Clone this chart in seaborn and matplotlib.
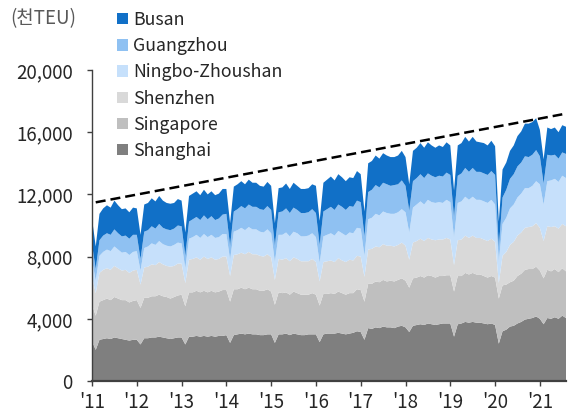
import numpy as np
import pandas as pd
import matplotlib
matplotlib.use("Agg")
import matplotlib.pyplot as plt
import seaborn as sns
from matplotlib.patches import Patch

# Monthly container throughput, thousand TEU, Jan 2011 - Aug 2021
shanghai = [
    2550, 2000, 2650, 2700, 2750, 2700, 2800, 2750, 2700, 2650, 2600, 2650,
    2650, 2350, 2750, 2750, 2800, 2800, 2850, 2800, 2750, 2700, 2750, 2800,
    2800, 2350, 2850, 2850, 2900, 2850, 2900, 2850, 2900, 2850, 2900, 2900,
    2950, 2450, 2950, 3000, 3050, 3000, 3050, 3000, 3000, 2950, 2950, 3000,
    3000, 2450, 3000, 3000, 3050, 2950, 3050, 3000, 2950, 2950, 3000, 3000,
    3000, 2500, 3000, 3050, 3050, 3050, 3100, 3050, 3000, 3050, 3100, 3200,
    3150, 2650, 3400, 3350, 3450, 3400, 3500, 3450, 3450, 3400, 3500, 3550,
    3450, 3150, 3550, 3600, 3650, 3600, 3700, 3650, 3600, 3650, 3700, 3700,
    3700, 2850, 3650, 3700, 3800, 3750, 3800, 3750, 3750, 3700, 3650, 3700,
    3600, 2400, 3200, 3300, 3500, 3550, 3700, 3800, 3950, 4000, 4050, 4150,
    4000, 3650, 4050, 4000, 4100, 4000, 4200, 4050,
]
singapore = [
    2350, 2200, 2450, 2500, 2550, 2500, 2600, 2550, 2500, 2550, 2450, 2500,
    2550, 2350, 2600, 2600, 2650, 2650, 2700, 2650, 2650, 2600, 2650, 2700,
    2750, 2450, 2850, 2850, 2900, 2850, 2900, 2850, 2900, 2850, 2850, 2950,
    2900, 2650, 2950, 2900, 2950, 2900, 2950, 2900, 2900, 2850, 2850, 2900,
    2750, 2450, 2700, 2650, 2650, 2600, 2700, 2650, 2600, 2600, 2550, 2650,
    2550, 2350, 2600, 2550, 2600, 2550, 2650, 2600, 2550, 2600, 2550, 2700,
    2700, 2450, 2850, 2900, 2950, 2950, 3000, 2950, 3000, 3000, 3000, 3050,
    3000, 2850, 3050, 3050, 3100, 3050, 3100, 3100, 3050, 3100, 3050, 3100,
    3100, 2900, 3100, 3050, 3150, 3100, 3150, 3100, 3100, 3050, 3000, 3050,
    3050, 2900, 2950, 2900, 2850, 2900, 3050, 3100, 3200, 3200, 3150, 3200,
    3100, 2950, 3100, 3050, 3100, 3000, 3050, 3000,
]
shenzhen = [
    1800, 1450, 1850, 1950, 1950, 1950, 2000, 1950, 1900, 1950, 1900, 1950,
    1950, 1500, 1950, 2000, 2050, 2000, 2100, 2050, 2000, 2050, 2000, 2050,
    2000, 1500, 2100, 2150, 2150, 2100, 2200, 2150, 2150, 2100, 2100, 2150,
    2150, 1650, 2200, 2250, 2250, 2250, 2300, 2250, 2250, 2250, 2200, 2250,
    2200, 1600, 2150, 2150, 2200, 2150, 2200, 2200, 2150, 2150, 2150, 2200,
    2100, 1550, 2050, 2100, 2100, 2050, 2150, 2100, 2100, 2150, 2100, 2150,
    2150, 1600, 2200, 2250, 2250, 2250, 2300, 2300, 2250, 2250, 2250, 2300,
    2250, 1800, 2300, 2350, 2400, 2350, 2400, 2350, 2400, 2350, 2350, 2400,
    2300, 1700, 2300, 2350, 2400, 2350, 2400, 2350, 2350, 2350, 2350, 2400,
    2300, 1000, 1900, 2100, 2400, 2500, 2600, 2650, 2700, 2700, 2750, 2800,
    2750, 2400, 2800, 2850, 2750, 2800, 2850, 2900,
]
ningbo = [
    1100, 800, 1100, 1150, 1200, 1200, 1250, 1200, 1150, 1150, 1150, 1200,
    1200, 900, 1250, 1300, 1350, 1300, 1350, 1300, 1300, 1300, 1350, 1350,
    1300, 950, 1350, 1400, 1450, 1400, 1450, 1400, 1450, 1400, 1400, 1450,
    1450, 1050, 1500, 1550, 1600, 1550, 1600, 1600, 1600, 1550, 1550, 1600,
    1550, 1150, 1550, 1600, 1650, 1600, 1650, 1650, 1600, 1600, 1650, 1650,
    1600, 1200, 1650, 1700, 1750, 1700, 1750, 1750, 1700, 1750, 1750, 1800,
    1800, 1350, 1950, 2000, 2100, 2050, 2100, 2100, 2050, 2100, 2100, 2150,
    2150, 1750, 2250, 2350, 2400, 2350, 2450, 2400, 2400, 2400, 2350, 2450,
    2400, 1800, 2400, 2450, 2500, 2450, 2500, 2450, 2450, 2450, 2450, 2500,
    2400, 1400, 2050, 2200, 2350, 2400, 2450, 2500, 2550, 2500, 2600, 2700,
    2800, 2350, 2900, 3000, 3050, 3000, 3100, 3100,
]
guangzhou = [
    1000, 750, 1000, 1050, 1050, 1050, 1100, 1050, 1050, 1050, 1050, 1100,
    1050, 750, 1050, 1050, 1100, 1050, 1100, 1050, 1050, 1050, 1050, 1100,
    1100, 800, 1100, 1150, 1150, 1150, 1200, 1150, 1200, 1150, 1200, 1250,
    1300, 900, 1300, 1350, 1400, 1400, 1450, 1450, 1450, 1450, 1450, 1500,
    1500, 1050, 1450, 1500, 1550, 1500, 1550, 1500, 1500, 1500, 1500, 1550,
    1550, 1150, 1600, 1650, 1700, 1650, 1700, 1700, 1650, 1700, 1700, 1750,
    1700, 1250, 1750, 1800, 1850, 1800, 1850, 1850, 1800, 1850, 1800, 1850,
    1700, 1400, 1700, 1700, 1750, 1700, 1700, 1700, 1650, 1700, 1700, 1750,
    1750, 1300, 1750, 1800, 1850, 1800, 1850, 1800, 1800, 1800, 1800, 1850,
    1900, 900, 1700, 1800, 1900, 1950, 2000, 2000, 2050, 2000, 2000, 2000,
    1800, 1350, 1700, 1600, 1550, 1500, 1500, 1550,
]
busan = [
    1650, 1450, 1700, 1750, 1800, 1750, 1850, 1800, 1750, 1750, 1700, 1750,
    1700, 1550, 1750, 1750, 1800, 1750, 1800, 1750, 1700, 1700, 1650, 1700,
    1650, 1500, 1650, 1650, 1650, 1600, 1650, 1600, 1600, 1600, 1600, 1650,
    1600, 1450, 1600, 1600, 1600, 1550, 1600, 1550, 1550, 1500, 1500, 1550,
    1550, 1450, 1550, 1550, 1600, 1550, 1600, 1550, 1550, 1550, 1550, 1600,
    1750, 1550, 1850, 1900, 1950, 1900, 1950, 1900, 1850, 1850, 1850, 1900,
    1800, 1600, 1850, 1850, 1900, 1850, 1900, 1850, 1850, 1800, 1850, 1900,
    1850, 1700, 1950, 1950, 2000, 1950, 2000, 1950, 1900, 1950, 1900, 1950,
    1900, 1700, 1950, 1950, 2000, 1950, 2000, 1950, 1900, 1950, 1900, 1950,
    1850, 1650, 1800, 1750, 1800, 1850, 1950, 2000, 2100, 2150, 2100, 2050,
    1700, 1550, 1750, 1700, 1750, 1700, 1750, 1750,
]

ports = ["Shanghai", "Singapore", "Shenzhen", "Ningbo-Zhoushan", "Guangzhou", "Busan"]
colors = ["#7f7f7f", "#bfbfbf", "#d9d9d9", "#c6e0fb", "#8fc1f2", "#1170c7"]

# Trend line endpoints (thousand TEU) at the second and second-to-last month
trend_values = [11490, 17150]

year_labels = ["'11", "'12", "'13", "'14", "'15", "'16", "'17", "'18", "'19", "'20", "'21"]
y_ticks = [0, 4000, 8000, 12000, 16000, 20000]

months = pd.date_range("2011-01-01", periods=len(shanghai), freq="MS")
df = pd.DataFrame({
    "Shanghai": shanghai, "Singapore": singapore, "Shenzhen": shenzhen,
    "Ningbo-Zhoushan": ningbo, "Guangzhou": guangzhou, "Busan": busan,
}, index=months)
idx = np.arange(len(df))

sns.set_theme(style="ticks")
plt.rcParams["font.family"] = ["Noto Sans CJK KR", "DejaVu Sans"]

W, H = 568, 412
fig = plt.figure(figsize=(W / 100, H / 100), dpi=100)
ax = fig.add_axes([92 / W, 31 / H, 474 / W, 311 / H])

ax.stackplot(idx, *[df[p].values for p in ports], colors=colors,
             linewidth=0, edgecolor="none")

trend_df = pd.DataFrame({"m": [idx[1], idx[-2]], "v": trend_values})
sns.lineplot(data=trend_df, x="m", y="v", ax=ax, color="black",
             linewidth=1.8, linestyle=(0, (4, 2)), legend=False)

ax.set_xlim(0, idx[-1])
ax.set_ylim(0, 20000)
ax.set_xticks(idx[::12])
ax.set_xticklabels(year_labels)
ax.set_yticks(y_ticks)
ax.set_yticklabels([f"{v:,}" for v in y_ticks])
ax.set_xlabel("")
ax.set_ylabel("")

sns.despine(ax=ax)
for s in ["left", "bottom"]:
    ax.spines[s].set_color("#404040")
ax.spines["left"].set_linewidth(1.0)
ax.spines["bottom"].set_linewidth(1.6)
ax.tick_params(axis="both", direction="out", length=3.8, width=1, color="#404040",
               labelsize=13.5, labelcolor="#262626")
ax.tick_params(axis="y", pad=10)
ax.tick_params(axis="x", pad=4)

handles = [Patch(facecolor=c, edgecolor="none") for c in colors][::-1]
fig.legend(handles, ports[::-1], loc="upper left",
           bbox_to_anchor=(117 / W, 1 - 11 / H), frameon=False, fontsize=12.8,
           handlelength=0.6, handleheight=0.6, handletextpad=0.3,
           labelspacing=0.46, borderpad=0, borderaxespad=0, labelcolor="#262626")

fig.text(10 / W, 1 - 19 / H, "(천TEU)", ha="left", va="center",
         fontsize=13.5, color="#595959")

fig.savefig("out.png", dpi=100)
